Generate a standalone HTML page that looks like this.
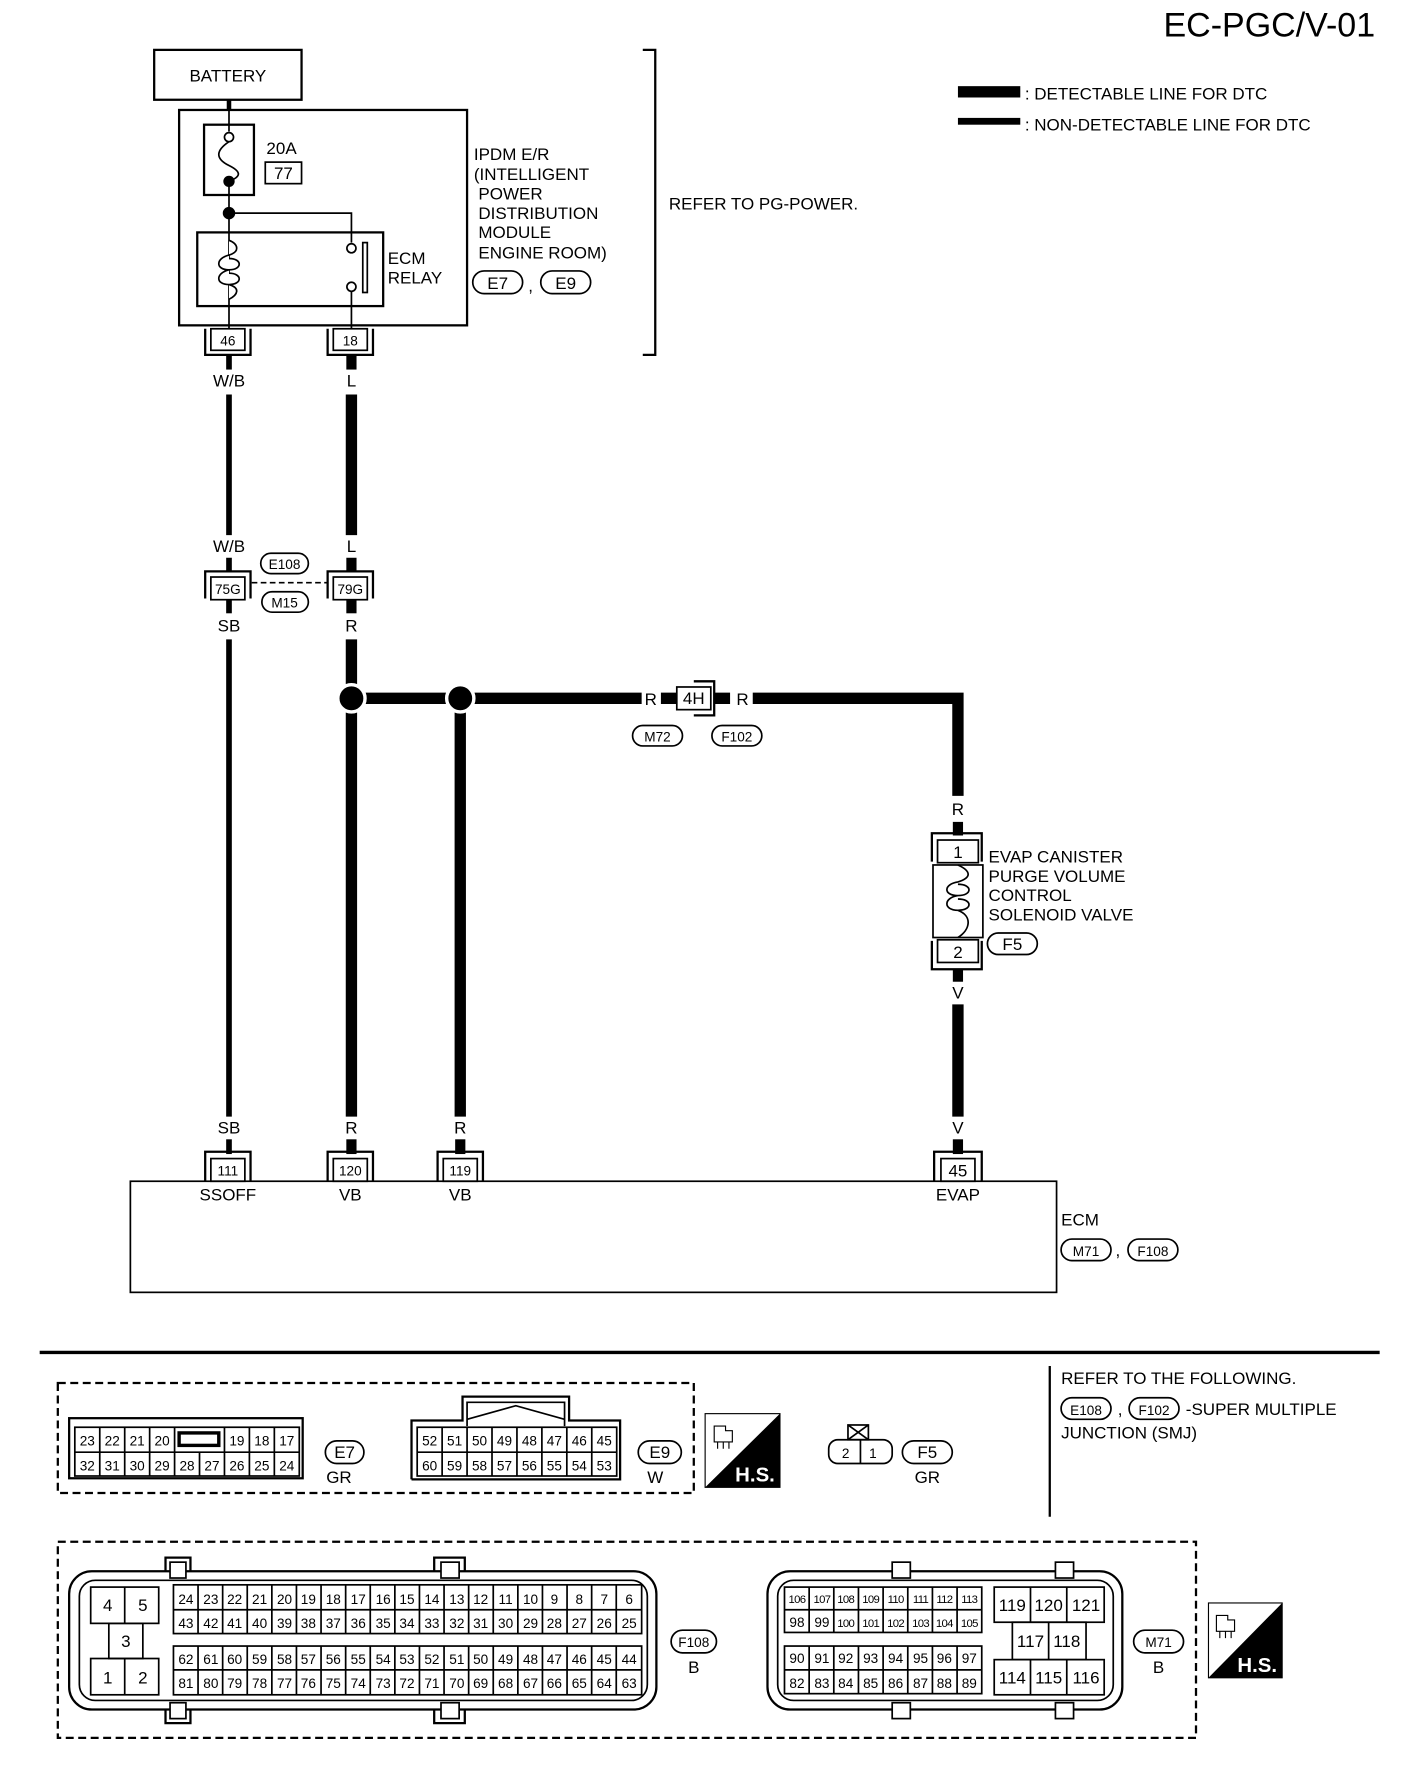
<!DOCTYPE html>
<html><head><meta charset="utf-8"><style>
html,body{margin:0;padding:0;background:#fff}
svg{display:block}
text{font-family:"Liberation Sans",sans-serif;fill:#000}
.t{font-size:15px}
.m{text-anchor:middle}
.c{font-size:12px;text-anchor:middle}
.s{font-size:10px;text-anchor:middle;letter-spacing:-0.6px}
</style></head><body>
<svg width="1408" height="1778" viewBox="0 0 1242 1568.4" preserveAspectRatio="none" xmlns="http://www.w3.org/2000/svg">
<g fill="none" stroke="#000">
<text x="1213" y="32" style="font-size:30px;text-anchor:end" stroke="none">EC-PGC/V-01</text>
<rect x="136" y="44" width="130" height="44" stroke-width="2"/>
<text x="201" y="72" class="t m" stroke="none">BATTERY</text>
<line x1="202" y1="88" x2="202" y2="97" stroke-width="4"/>
<rect x="158" y="97" width="254" height="190" stroke-width="2"/>
<rect x="180" y="110" width="44" height="62" stroke-width="2"/>
<line x1="202" y1="97" x2="202" y2="116" stroke-width="1.5"/>
<circle cx="202" cy="121" r="4" stroke-width="1.5"/>
<path d="M202 125 C190 133,190 140,202 146 C214 152,212 156,202 160" stroke-width="1.5"/>
<circle cx="202" cy="160" r="4.5" fill="#000"/>
<line x1="202" y1="160" x2="202" y2="290" stroke-width="1.5"/>
<circle cx="202" cy="188" r="5" fill="#000"/>
<polyline points="202,188 310,188 310,214" stroke-width="1.5"/>
<text x="235" y="136" class="t" stroke="none">20A</text>
<rect x="234" y="143" width="32" height="19" stroke-width="1.5"/>
<text x="250" y="158" class="t m" stroke="none">77</text>
<rect x="174" y="205" width="164" height="65" stroke-width="2"/>
<path d="M202 212 C210 215,212 222,202 225 C190 228,190 238,202 238 C214 238,214 228,202 228 M202 238 C190 241,190 251,202 251 C214 251,214 241,202 241 M202 251 C212 254,210 260,202 264" stroke-width="1.5" fill="#fff"/>
<circle cx="310" cy="219" r="4" stroke-width="1.5"/>
<circle cx="310" cy="253" r="4" stroke-width="1.5"/>
<line x1="310" y1="257" x2="310" y2="290" stroke-width="1.5"/>
<rect x="320" y="214" width="4" height="44" stroke-width="1.5"/>
<text x="342" y="233" class="t" stroke="none">ECM</text>
<text x="342" y="250" class="t" stroke="none">RELAY</text>
<g class="t" stroke="none"><text x="418" y="141" class="t">IPDM E/R</text><text x="418" y="159" class="t">(INTELLIGENT</text><text x="422" y="176" class="t">POWER</text><text x="422" y="193" class="t">DISTRIBUTION</text><text x="422" y="210" class="t">MODULE</text><text x="422" y="228" class="t">ENGINE ROOM)</text></g>
<rect x="417" y="239" width="44" height="20" rx="10" stroke-width="1.5"/><text x="439" y="255" class="t m" stroke="none">E7</text>
<text x="466" y="257" class="t" stroke="none">,</text>
<rect x="477" y="239" width="44" height="20" rx="10" stroke-width="1.5"/><text x="499" y="255" class="t m" stroke="none">E9</text>
<polyline points="567,44 578,44 578,313 567,313" stroke-width="2"/>
<text x="590" y="185" class="t" stroke="none">REFER TO PG-POWER.</text>
<rect x="845" y="76" width="55" height="10" fill="#000" stroke="none"/>
<rect x="845" y="104" width="55" height="6" fill="#000" stroke="none"/>
<text x="904" y="88" class="t" stroke="none">: DETECTABLE LINE FOR DTC</text>
<text x="904" y="115" class="t" stroke="none">: NON-DETECTABLE LINE FOR DTC</text>
<rect x="186" y="290" width="30" height="19" fill="#fff" stroke-width="1.5"/><text x="201" y="305" class="c" stroke="none">46</text>
<polyline points="181,290 181,313 221,313 221,290" stroke-width="2"/>
<rect x="294" y="290" width="30" height="19" fill="#fff" stroke-width="1.5"/><text x="309" y="305" class="c" stroke="none">18</text>
<polyline points="289,290 289,313 329,313 329,290" stroke-width="2"/>
<line x1="202" y1="313" x2="202" y2="326" stroke-width="5"/>
<line x1="310" y1="313" x2="310" y2="326" stroke-width="9"/>
<text x="202" y="341" class="t m" stroke="none">W/B</text>
<text x="310" y="341" class="t m" stroke="none">L</text>
<line x1="202" y1="348" x2="202" y2="472" stroke-width="5"/>
<line x1="310" y1="348" x2="310" y2="472" stroke-width="10"/>
<text x="202" y="487" class="t m" stroke="none">W/B</text>
<text x="310" y="487" class="t m" stroke="none">L</text>
<line x1="202" y1="492" x2="202" y2="505" stroke-width="5"/>
<line x1="310" y1="492" x2="310" y2="505" stroke-width="9"/>
<polyline points="181,528 181,504 221,504 221,528" stroke-width="2"/>
<rect x="186" y="509" width="30" height="20" fill="#fff" stroke-width="1.5"/><text x="201" y="524" class="c" stroke="none">75G</text>
<polyline points="289,528 289,504 329,504 329,528" stroke-width="2"/>
<rect x="294" y="509" width="30" height="20" fill="#fff" stroke-width="1.5"/><text x="309" y="524" class="c" stroke="none">79G</text>
<line x1="222" y1="514" x2="288" y2="514" stroke-width="1.5" stroke-dasharray="5,3"/>
<rect x="230" y="488" width="42" height="18" rx="9" stroke-width="1.5" fill="#fff"/><text x="251" y="502" class="c" stroke="none">E108</text>
<rect x="231" y="522" width="41" height="18" rx="9" stroke-width="1.5" fill="#fff"/><text x="251" y="536" class="c" stroke="none">M15</text>
<line x1="202" y1="529" x2="202" y2="541" stroke-width="5"/>
<line x1="310" y1="529" x2="310" y2="541" stroke-width="9"/>
<text x="202" y="557" class="t m" stroke="none">SB</text>
<text x="310" y="557" class="t m" stroke="none">R</text>
<line x1="202" y1="564" x2="202" y2="985" stroke-width="5"/>
<line x1="310" y1="564" x2="310" y2="985" stroke-width="10"/>
<line x1="406" y1="616" x2="406" y2="985" stroke-width="10"/>
<line x1="310" y1="616" x2="566" y2="616" stroke-width="10"/>
<circle cx="310" cy="616" r="12" fill="#000" stroke="#fff" stroke-width="3"/>
<circle cx="406" cy="616" r="12" fill="#000" stroke="#fff" stroke-width="3"/>
<text x="574" y="622" class="t m" stroke="none">R</text>
<line x1="583" y1="616" x2="597" y2="616" stroke-width="10"/>
<rect x="597" y="606" width="30" height="20" stroke-width="1.5" fill="#fff"/><text x="612" y="621" class="t m" stroke="none">4H</text>
<polyline points="612,601 630,601 630,631 612,631" stroke-width="2"/>
<line x1="630" y1="616" x2="644" y2="616" stroke-width="10"/>
<text x="655" y="622" class="t m" stroke="none">R</text>
<polyline points="664,616 845,616 845,702" stroke-width="10"/>
<rect x="558" y="640" width="44" height="18" rx="9" stroke-width="1.5"/><text x="580" y="654" class="c" stroke="none">M72</text>
<rect x="628" y="640" width="44" height="18" rx="9" stroke-width="1.5"/><text x="650" y="654" class="c" stroke="none">F102</text>
<text x="845" y="719" class="t m" stroke="none">R</text>
<line x1="845" y1="725" x2="845" y2="737" stroke-width="9"/>
<polyline points="822,760 822,735 866,735 866,760" stroke-width="2"/>
<rect x="827" y="741" width="36" height="20" stroke-width="1.5" fill="#fff"/><text x="845" y="757" class="t m" stroke="none">1</text>
<rect x="823" y="763" width="44" height="64" stroke-width="1.5"/>
<path d="M845 763 C856 768,858 774,845 778 C832 780,832 790,845 790 C858 790,858 780,845 780 M845 790 C832 792,832 803,845 803 C858 803,858 793,845 793 M845 803 C858 808,856 820,845 827" stroke-width="1.5"/>
<rect x="827" y="829" width="36" height="20" stroke-width="1.5" fill="#fff"/><text x="845" y="845" class="t m" stroke="none">2</text>
<polyline points="822,830 822,855 866,855 866,830" stroke-width="2"/>
<line x1="845" y1="855" x2="845" y2="866" stroke-width="9"/>
<g stroke="none"><text x="872" y="761" class="t">EVAP CANISTER</text><text x="872" y="778" class="t">PURGE VOLUME</text><text x="872" y="795" class="t">CONTROL</text><text x="872" y="812" class="t">SOLENOID VALVE</text></g>
<rect x="871" y="823" width="44" height="19" rx="9.5" stroke-width="1.5"/><text x="893" y="838" class="t m" stroke="none">F5</text>
<text x="845" y="881" class="t m" stroke="none">V</text>
<line x1="845" y1="886" x2="845" y2="985" stroke-width="10"/>
<g stroke="none"><text x="202" y="1000" class="t m">SB</text><text x="310" y="1000" class="t m">R</text><text x="406" y="1000" class="t m">R</text><text x="845" y="1000" class="t m">V</text></g>
<line x1="202" y1="1005" x2="202" y2="1018" stroke-width="5"/>
<line x1="310" y1="1005" x2="310" y2="1018" stroke-width="9"/>
<line x1="406" y1="1005" x2="406" y2="1018" stroke-width="9"/>
<line x1="845" y1="1005" x2="845" y2="1018" stroke-width="9"/>
<g stroke-width="2">
<polyline points="181,1042 181,1016 221,1016 221,1042"/><rect x="186" y="1022" width="30" height="20" stroke-width="1.5"/>
<polyline points="289,1042 289,1016 329,1016 329,1042"/><rect x="294" y="1022" width="30" height="20" stroke-width="1.5"/>
<polyline points="386,1042 386,1016 426,1016 426,1042"/><rect x="391" y="1022" width="30" height="20" stroke-width="1.5"/>
<polyline points="824,1042 824,1016 866,1016 866,1042"/><rect x="830" y="1022" width="30" height="20" stroke-width="1.5"/>
</g>
<g stroke="none"><text x="201" y="1037" class="c">111</text><text x="309" y="1037" class="c">120</text><text x="406" y="1037" class="c">119</text><text x="845" y="1038" class="t m">45</text>
<text x="201" y="1059" class="t m">SSOFF</text><text x="309" y="1059" class="t m">VB</text><text x="406" y="1059" class="t m">VB</text><text x="845" y="1059" class="t m">EVAP</text>
<text x="936" y="1081" class="t">ECM</text><text x="984" y="1108" class="t">,</text></g>
<rect x="115" y="1042" width="817" height="98" stroke-width="1.5"/>
<rect x="936" y="1093" width="44" height="19" rx="9.5" stroke-width="1.5"/><text x="958" y="1108" class="c" stroke="none">M71</text>
<rect x="995" y="1093" width="44" height="19" rx="9.5" stroke-width="1.5"/><text x="1017" y="1108" class="c" stroke="none">F108</text>
<line x1="35" y1="1193" x2="1217" y2="1193" stroke-width="3"/>
<line x1="926" y1="1205" x2="926" y2="1338" stroke-width="2"/>
<g stroke="none"><text x="936" y="1221" class="t">REFER TO THE FOLLOWING.</text><text x="986" y="1248" class="t">,</text><text x="1046" y="1248" class="t">-SUPER MULTIPLE</text><text x="936" y="1269" class="t">JUNCTION (SMJ)</text></g>
<rect x="936" y="1233" width="44" height="19" rx="9.5" stroke-width="1.5"/><text x="958" y="1248" class="c" stroke="none">E108</text>
<rect x="996" y="1233" width="44" height="19" rx="9.5" stroke-width="1.5"/><text x="1018" y="1248" class="c" stroke="none">F102</text>
<rect x="51" y="1220" width="561" height="97" stroke-width="2" stroke-dasharray="7,4"/>
<rect x="61" y="1251" width="206" height="53" stroke-width="2"/>
<rect x="66" y="1259" width="198" height="43" stroke-width="1.5"/>
<line x1="66" y1="1281" x2="264" y2="1281" stroke-width="1.5"/>
<path d="M88 1259V1302M110 1259V1302M132 1259V1302M154 1259V1302M176 1281V1302M198 1259V1302M220 1259V1302M242 1259V1302" stroke-width="1.5"/>
<rect x="158" y="1264" width="35" height="11" stroke-width="3"/>
<g class="c" stroke="none"><text x="77" y="1275" class="c">23</text><text x="99" y="1275" class="c">22</text><text x="121" y="1275" class="c">21</text><text x="143" y="1275" class="c">20</text><text x="209" y="1275" class="c">19</text><text x="231" y="1275" class="c">18</text><text x="253" y="1275" class="c">17</text>
<text x="77" y="1297" class="c">32</text><text x="99" y="1297" class="c">31</text><text x="121" y="1297" class="c">30</text><text x="143" y="1297" class="c">29</text><text x="165" y="1297" class="c">28</text><text x="187" y="1297" class="c">27</text><text x="209" y="1297" class="c">26</text><text x="231" y="1297" class="c">25</text><text x="253" y="1297" class="c">24</text></g>
<rect x="287" y="1271" width="34" height="20" rx="10" stroke-width="1.5"/><text x="304" y="1286" class="t m" stroke="none">E7</text>
<text x="299" y="1308" class="t m" stroke="none">GR</text>
<polyline points="363,1305 363,1253 408,1253 408,1232 502,1232 502,1253 547,1253 547,1305 363,1305" stroke-width="2"/>
<polyline points="412,1258 412,1237 498,1237 498,1258" stroke-width="1.5"/>
<polyline points="412,1252 455,1240 498,1252" stroke-width="1.5"/>
<rect x="368" y="1259" width="176" height="43" stroke-width="1.5"/>
<line x1="368" y1="1281" x2="544" y2="1281" stroke-width="1.5"/>
<path d="M390 1259V1302M412 1259V1302M434 1259V1302M456 1259V1302M478 1259V1302M500 1259V1302M522 1259V1302" stroke-width="1.5"/>
<g stroke="none"><text x="379" y="1275" class="c">52</text><text x="401" y="1275" class="c">51</text><text x="423" y="1275" class="c">50</text><text x="445" y="1275" class="c">49</text><text x="467" y="1275" class="c">48</text><text x="489" y="1275" class="c">47</text><text x="511" y="1275" class="c">46</text><text x="533" y="1275" class="c">45</text>
<text x="379" y="1297" class="c">60</text><text x="401" y="1297" class="c">59</text><text x="423" y="1297" class="c">58</text><text x="445" y="1297" class="c">57</text><text x="467" y="1297" class="c">56</text><text x="489" y="1297" class="c">55</text><text x="511" y="1297" class="c">54</text><text x="533" y="1297" class="c">53</text></g>
<rect x="563" y="1271" width="38" height="20" rx="10" stroke-width="1.5"/><text x="582" y="1286" class="t m" stroke="none">E9</text>
<text x="578" y="1308" class="t m" stroke="none">W</text>
<rect x="622" y="1247" width="66" height="65" stroke-width="1"/>
<polygon points="688,1247 688,1312 622,1312" fill="#000" stroke="none"/>
<path d="M630 1258h10v4h6v10h-16z M633 1272v6 M638 1272v6 M643 1272v6" stroke-width="1"/>
<text x="666" y="1307" style="font-size:18px;font-weight:bold;fill:#fff;text-anchor:middle" stroke="none">H.S.</text>
<rect x="748" y="1257" width="18" height="13" stroke-width="1.5"/>
<path d="M748 1257L766 1270M766 1257L748 1270" stroke-width="1.5"/>
<rect x="731" y="1270" width="56" height="21" rx="8" stroke-width="1.5"/>
<line x1="759" y1="1270" x2="759" y2="1291" stroke-width="1.5"/>
<text x="746" y="1286" class="c" stroke="none">2</text><text x="770" y="1286" class="c" stroke="none">1</text>
<rect x="796" y="1271" width="44" height="20" rx="10" stroke-width="1.5"/><text x="818" y="1286" class="t m" stroke="none">F5</text>
<text x="818" y="1308" class="t m" stroke="none">GR</text>
<rect x="51" y="1360" width="1004" height="173" stroke-width="2" stroke-dasharray="7,4"/>
<path d="M146 1386V1374H168V1386M383 1386V1374H410V1386M146 1508V1520H168V1508M383 1508V1520H410V1508" stroke-width="2" fill="#fff"/>
<rect x="61" y="1386" width="518" height="122" rx="20" stroke-width="2"/>
<rect x="70" y="1394" width="501" height="106" rx="14" stroke-width="1.5"/>
<rect x="150" y="1378" width="14" height="14" stroke-width="1.5" fill="#fff"/><rect x="389" y="1378" width="16" height="14" stroke-width="1.5" fill="#fff"/>
<rect x="150" y="1502" width="14" height="14" stroke-width="1.5" fill="#fff"/><rect x="389" y="1502" width="16" height="14" stroke-width="1.5" fill="#fff"/>
<rect x="80" y="1400" width="60" height="32" stroke-width="1.5"/><line x1="110" y1="1400" x2="110" y2="1432" stroke-width="1.5"/>
<rect x="96" y="1432" width="30" height="31" stroke-width="1.5"/>
<rect x="80" y="1463" width="60" height="32" stroke-width="1.5"/><line x1="110" y1="1463" x2="110" y2="1495" stroke-width="1.5"/>
<g stroke="none"><text x="95" y="1421" class="t m">4</text><text x="126" y="1421" class="t m">5</text><text x="111" y="1453" class="t m">3</text><text x="95" y="1485" class="t m">1</text><text x="126" y="1485" class="t m">2</text></g>
<rect x="153" y="1398" width="413" height="43" stroke-width="1.5"/><line x1="153" y1="1420" x2="566" y2="1420" stroke-width="1.5"/>
<rect x="153" y="1452" width="413" height="43" stroke-width="1.5"/><line x1="153" y1="1473" x2="566" y2="1473" stroke-width="1.5"/>
<path d="M174.7 1398V1441M196.4 1398V1441M218.1 1398V1441M239.8 1398V1441M261.5 1398V1441M283.2 1398V1441M304.9 1398V1441M326.6 1398V1441M348.3 1398V1441M370 1398V1441M391.7 1398V1441M413.4 1398V1441M435.1 1398V1441M456.8 1398V1441M478.5 1398V1441M500.2 1398V1441M521.9 1398V1441M543.6 1398V1441
M174.7 1452V1495M196.4 1452V1495M218.1 1452V1495M239.8 1452V1495M261.5 1452V1495M283.2 1452V1495M304.9 1452V1495M326.6 1452V1495M348.3 1452V1495M370 1452V1495M391.7 1452V1495M413.4 1452V1495M435.1 1452V1495M456.8 1452V1495M478.5 1452V1495M500.2 1452V1495M521.9 1452V1495M543.6 1452V1495" stroke-width="1.5"/>
<g stroke="none">
<text x="164" y="1415" class="c">24</text><text x="186" y="1415" class="c">23</text><text x="207" y="1415" class="c">22</text><text x="229" y="1415" class="c">21</text><text x="251" y="1415" class="c">20</text><text x="272" y="1415" class="c">19</text><text x="294" y="1415" class="c">18</text><text x="316" y="1415" class="c">17</text><text x="338" y="1415" class="c">16</text><text x="359" y="1415" class="c">15</text><text x="381" y="1415" class="c">14</text><text x="403" y="1415" class="c">13</text><text x="424" y="1415" class="c">12</text><text x="446" y="1415" class="c">11</text><text x="468" y="1415" class="c">10</text><text x="489" y="1415" class="c">9</text><text x="511" y="1415" class="c">8</text><text x="533" y="1415" class="c">7</text><text x="555" y="1415" class="c">6</text>
<text x="164" y="1436" class="c">43</text><text x="186" y="1436" class="c">42</text><text x="207" y="1436" class="c">41</text><text x="229" y="1436" class="c">40</text><text x="251" y="1436" class="c">39</text><text x="272" y="1436" class="c">38</text><text x="294" y="1436" class="c">37</text><text x="316" y="1436" class="c">36</text><text x="338" y="1436" class="c">35</text><text x="359" y="1436" class="c">34</text><text x="381" y="1436" class="c">33</text><text x="403" y="1436" class="c">32</text><text x="424" y="1436" class="c">31</text><text x="446" y="1436" class="c">30</text><text x="468" y="1436" class="c">29</text><text x="489" y="1436" class="c">28</text><text x="511" y="1436" class="c">27</text><text x="533" y="1436" class="c">26</text><text x="555" y="1436" class="c">25</text>
<text x="164" y="1468" class="c">62</text><text x="186" y="1468" class="c">61</text><text x="207" y="1468" class="c">60</text><text x="229" y="1468" class="c">59</text><text x="251" y="1468" class="c">58</text><text x="272" y="1468" class="c">57</text><text x="294" y="1468" class="c">56</text><text x="316" y="1468" class="c">55</text><text x="338" y="1468" class="c">54</text><text x="359" y="1468" class="c">53</text><text x="381" y="1468" class="c">52</text><text x="403" y="1468" class="c">51</text><text x="424" y="1468" class="c">50</text><text x="446" y="1468" class="c">49</text><text x="468" y="1468" class="c">48</text><text x="489" y="1468" class="c">47</text><text x="511" y="1468" class="c">46</text><text x="533" y="1468" class="c">45</text><text x="555" y="1468" class="c">44</text>
<text x="164" y="1489" class="c">81</text><text x="186" y="1489" class="c">80</text><text x="207" y="1489" class="c">79</text><text x="229" y="1489" class="c">78</text><text x="251" y="1489" class="c">77</text><text x="272" y="1489" class="c">76</text><text x="294" y="1489" class="c">75</text><text x="316" y="1489" class="c">74</text><text x="338" y="1489" class="c">73</text><text x="359" y="1489" class="c">72</text><text x="381" y="1489" class="c">71</text><text x="403" y="1489" class="c">70</text><text x="424" y="1489" class="c">69</text><text x="446" y="1489" class="c">68</text><text x="468" y="1489" class="c">67</text><text x="489" y="1489" class="c">66</text><text x="511" y="1489" class="c">65</text><text x="533" y="1489" class="c">64</text><text x="555" y="1489" class="c">63</text>
</g>
<rect x="592" y="1438" width="40" height="20" rx="10" stroke-width="1.5"/><text x="612" y="1453" class="c" stroke="none">F108</text>
<text x="612" y="1476" class="t m" stroke="none">B</text>
<rect x="677" y="1386" width="313" height="122" rx="20" stroke-width="2"/>
<rect x="686" y="1394" width="296" height="106" rx="14" stroke-width="1.5"/>
<rect x="787" y="1378" width="16" height="14" stroke-width="1.5" fill="#fff"/><rect x="931" y="1378" width="16" height="14" stroke-width="1.5" fill="#fff"/>
<rect x="787" y="1502" width="16" height="14" stroke-width="1.5" fill="#fff"/><rect x="931" y="1502" width="16" height="14" stroke-width="1.5" fill="#fff"/>
<rect x="692" y="1400" width="174" height="40" stroke-width="1.5"/><line x1="692" y1="1420" x2="866" y2="1420" stroke-width="1.5"/>
<rect x="692" y="1452" width="174" height="42" stroke-width="1.5"/><line x1="692" y1="1473" x2="866" y2="1473" stroke-width="1.5"/>
<path d="M713.75 1400V1440M735.5 1400V1440M757.25 1400V1440M779 1400V1440M800.75 1400V1440M822.5 1400V1440M844.25 1400V1440M713.75 1452V1494M735.5 1452V1494M757.25 1452V1494M779 1452V1494M800.75 1452V1494M822.5 1452V1494M844.25 1452V1494" stroke-width="1.5"/>
<g stroke="none">
<text x="703" y="1414" class="s">106</text><text x="725" y="1414" class="s">107</text><text x="746" y="1414" class="s">108</text><text x="768" y="1414" class="s">109</text><text x="790" y="1414" class="s">110</text><text x="812" y="1414" class="s">111</text><text x="833" y="1414" class="s">112</text><text x="855" y="1414" class="s">113</text>
<text x="703" y="1435" class="c">98</text><text x="725" y="1435" class="c">99</text><text x="746" y="1435" class="s">100</text><text x="768" y="1435" class="s">101</text><text x="790" y="1435" class="s">102</text><text x="812" y="1435" class="s">103</text><text x="833" y="1435" class="s">104</text><text x="855" y="1435" class="s">105</text>
<text x="703" y="1467" class="c">90</text><text x="725" y="1467" class="c">91</text><text x="746" y="1467" class="c">92</text><text x="768" y="1467" class="c">93</text><text x="790" y="1467" class="c">94</text><text x="812" y="1467" class="c">95</text><text x="833" y="1467" class="c">96</text><text x="855" y="1467" class="c">97</text>
<text x="703" y="1489" class="c">82</text><text x="725" y="1489" class="c">83</text><text x="746" y="1489" class="c">84</text><text x="768" y="1489" class="c">85</text><text x="790" y="1489" class="c">86</text><text x="812" y="1489" class="c">87</text><text x="833" y="1489" class="c">88</text><text x="855" y="1489" class="c">89</text>
</g>
<rect x="877" y="1400" width="97" height="31" stroke-width="1.5"/><path d="M909 1400V1431M941 1400V1431" stroke-width="1.5"/>
<rect x="893" y="1431" width="65" height="33" stroke-width="1.5"/><path d="M925 1431V1464" stroke-width="1.5"/>
<rect x="877" y="1464" width="97" height="31" stroke-width="1.5"/><path d="M909 1464V1495M941 1464V1495" stroke-width="1.5"/>
<g stroke="none"><text x="893" y="1421" class="t m">119</text><text x="925" y="1421" class="t m">120</text><text x="958" y="1421" class="t m">121</text><text x="909" y="1453" class="t m">117</text><text x="941" y="1453" class="t m">118</text><text x="893" y="1485" class="t m">114</text><text x="925" y="1485" class="t m">115</text><text x="958" y="1485" class="t m">116</text></g>
<rect x="1000" y="1438" width="44" height="20" rx="10" stroke-width="1.5"/><text x="1022" y="1453" class="c" stroke="none">M71</text>
<text x="1022" y="1476" class="t m" stroke="none">B</text>
<rect x="1066" y="1414" width="65" height="66" stroke-width="1"/>
<polygon points="1131,1414 1131,1480 1066,1480" fill="#000" stroke="none"/>
<path d="M1073 1425h10v4h6v10h-16z M1076 1439v6 M1081 1439v6 M1086 1439v6" stroke-width="1"/>
<text x="1109" y="1475" style="font-size:18px;font-weight:bold;fill:#fff;text-anchor:middle" stroke="none">H.S.</text>
</g>
</svg>
</body></html>
